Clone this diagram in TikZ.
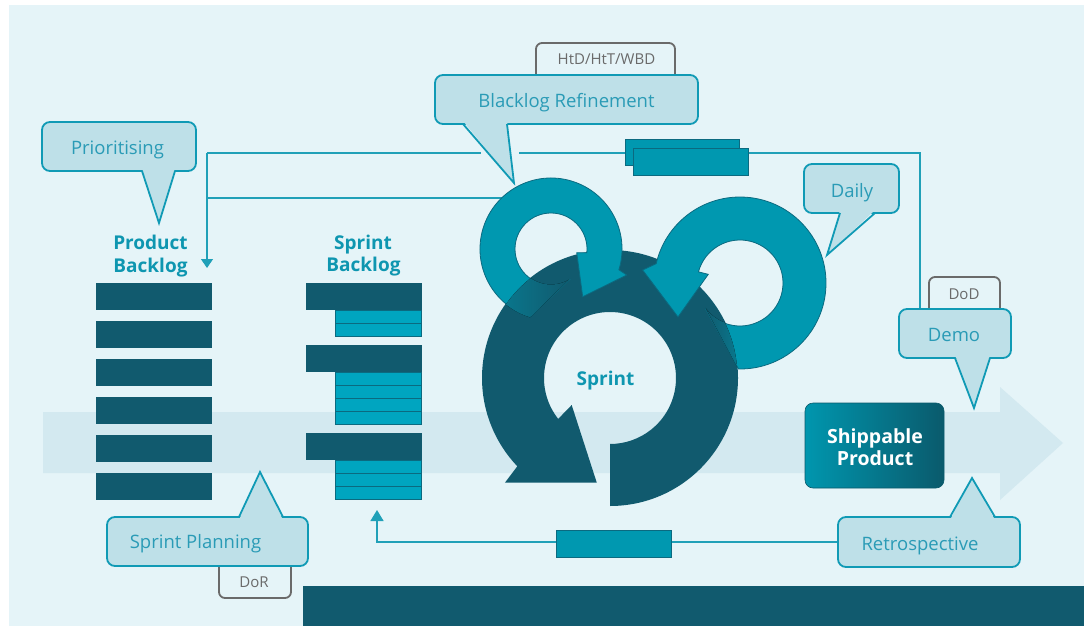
\documentclass[tikz,border=0pt]{standalone}
\usepackage{fontspec}
\setmainfont{Open Sans}
\usetikzlibrary{arrows.meta}
\definecolor{bgl}{HTML}{E5F4F8}
\definecolor{bandc}{HTML}{D3E9F0}
\definecolor{darkc}{HTML}{115A6E}
\definecolor{tealc}{HTML}{0098B0}
\definecolor{tealline}{HTML}{0B6A80}
\definecolor{subbarc}{HTML}{00A5C0}
\definecolor{cfill}{HTML}{BEE0E8}
\definecolor{cline}{HTML}{109AB5}
\definecolor{ctextc}{HTML}{2A9BB6}
\definecolor{headc}{HTML}{0E96B0}
\definecolor{tabg}{HTML}{6A6A6A}
\definecolor{connc}{HTML}{20A0B8}
\definecolor{shipl}{HTML}{0096AE}
\definecolor{shipr}{HTML}{0A5A6C}
\begin{document}
\begin{tikzpicture}[x=1pt,y=-1pt,
  callout/.style={fill=cfill, draw=cline, line width=1.8pt, rounded corners=8pt, inner sep=0pt},
  ptrfill/.style={fill=cfill},
  ptrline/.style={draw=cline, line width=1.8pt},
  ctext/.style={text=ctextc, font=\fontsize{18.5}{21}\selectfont, inner sep=0pt, anchor=base},
  tabline/.style={draw=tabg, line width=1.8pt, rounded corners=6pt},
  tabtext/.style={text=tabg, font=\fontsize{15}{17}\selectfont, inner sep=0pt, anchor=base},
  headtext/.style={text=headc, font=\fontsize{19}{22}\selectfont\bfseries, inner sep=0pt, anchor=base},
  shiptext/.style={text=white, font=\fontsize{19.5}{22}\selectfont\bfseries, inner sep=0pt, anchor=base},
  connline/.style={draw=connc, line width=1.3pt},
  pbar/.style={fill=darkc},
  subbar/.style={fill=subbarc, draw=tealline, line width=1pt},
  tbar/.style={fill=tealc, draw=tealline, line width=1pt},
  ring/.style={fill=tealc, draw=tealline, line width=0.8pt}
]
\useasboundingbox (0,0) rectangle (1084,626);
\fill[white] (0,0) rectangle (1084,626);
\fill[bgl] (9,5) rectangle (1084,626);
% big flow arrow
\fill[bandc] (43,412) -- (1000,412) -- (1000,387) -- (1063,443) -- (1000,500) -- (1000,473) -- (43,473) -- cycle;
% bottom band
\fill[darkc] (303,586) rectangle (1084,626);

% connectors
\coordinate (jtop) at (207,153);
\coordinate (jmid) at (207,198);
\coordinate (pbin) at (207,268);
\coordinate (gapl) at (481,153);
\coordinate (gapr) at (519,153);
\coordinate (rcorner) at (920,153);
\coordinate (demoin) at (920,309);
\coordinate (loopin) at (512,198);
\coordinate (retroout) at (838,542);
\coordinate (sbcorner) at (377,542);
\coordinate (sbin) at (377,510);
\draw[connline] (jtop) -- (gapl);
\draw[connline] (gapr) -- (rcorner) -- (demoin);
\draw[connline] (jmid) -- (loopin);
\draw[connline, -{Triangle[width=12pt,length=9pt]}] (jtop) -- (pbin);
\draw[connline, -{Triangle[width=13pt,length=11pt]}] (retroout) -- (sbcorner) -- (sbin);

% product backlog
\foreach \y in {283,321,359,397,435,473} \fill[pbar] (96,\y) rectangle (212,\y+27);
\node[headtext] (pb1) at (150.5,249) {Product};
\node[headtext] (pb2) at (150.5,272) {Backlog};

% sprint backlog
\node[headtext] (sb1) at (363,249) {Sprint};
\node[headtext] (sb2) at (363.5,271) {Backlog};
\foreach \y in {310,323} \draw[subbar] (335,\y) rectangle (421.5,\y+13);
\foreach \y in {372,385,398,411} \draw[subbar] (335,\y) rectangle (421.5,\y+13);
\foreach \y in {460,473,486} \draw[subbar] (335,\y) rectangle (421.5,\y+13);
\foreach \y in {283,345,433} \fill[pbar] (306,\y) rectangle (421.5,\y+27);

% stacked bars top right and bottom bar
\draw[tbar] (625,139) rectangle (739,165);
\draw[tbar] (633,148) rectangle (748,175);
\draw[tbar] (556,530) rectangle (671,557);

% big sprint ring
\begin{scope}[shift={(610,378)}]
\fill[darkc] (90:128) arc[start angle=90, end angle=-223.6, radius=128]
  -- (-224.9:148.3) -- (-262.8:105.5) -- (-215.2:46.9) -- (-218.3:66)
  arc[start angle=-218.3, end angle=90, radius=66] -- cycle;
\end{scope}
\node[headtext] (sprint) at (605.5,385) {Sprint};

% left loop (refinement)
\begin{scope}[shift={(551,249)}]
\filldraw[ring] (107:71) arc[start angle=107, end angle=377, radius=71]
  -- (379:80) -- (416.4:57.3) -- (368.2:26) -- (366:36)
  arc[start angle=366, end angle=60, radius=36] -- cycle;
\end{scope}
\begin{scope}
\clip (610,378) circle[radius=127.5];
\begin{scope}[shift={(551,249)}]
\fill[left color=tealc!52!darkc, right color=darkc] (107:71.5) arc[start angle=107, end angle=142, radius=71.5]
  -- (142:35.5) arc[start angle=142, end angle=60, radius=35.5] -- cycle;
\end{scope}
\end{scope}

% right loop (daily)
\begin{scope}[shift={(740,283)}]
\filldraw[ring] (91:86) arc[start angle=91, end angle=-167, radius=86]
  -- (-172.4:98.2) -- (-208.7:70.7) -- (-164.7:32.9) -- (-165:43)
  arc[start angle=-165, end angle=144, radius=43] -- cycle;
\end{scope}
\begin{scope}
\clip (610,378) circle[radius=127.5];
\begin{scope}[shift={(740,283)}]
\fill[left color=darkc, right color=tealc!75!darkc] (91:86.5) arc[start angle=91, end angle=80, radius=86.5]
  -- (80:42.5) arc[start angle=80, end angle=144, radius=42.5] -- cycle;
\end{scope}
\end{scope}

% shippable product
\node[draw=shipr, line width=0.6pt, rounded corners=8pt, left color=shipl, right color=shipr,
  minimum width=139pt, minimum height=85pt, inner sep=0pt] (ship) at (874.5,445.5) {};
\node[shiptext] (ship1) at (875,443) {Shippable};
\node[shiptext] (ship2) at (875,465) {Product};

% tabs
\draw[tabline] (536,80) -- (536,43) -- (675,43) -- (675,80);
\node[tabtext] (htd) at (606.5,65) {HtD/HtT/WBD};
\draw[tabline] (929,314) -- (929,277) -- (1000,277) -- (1000,314);
\node[tabtext] (dod) at (964,299) {DoD};
\draw[tabline] (219,560) -- (219,598) -- (291,598) -- (291,560);
\node[tabtext] (dor) at (254,587) {DoR};

% callouts
% Prioritising
\node[callout, minimum width=154pt, minimum height=49pt] (prio) at (119,146.5) {};
\fill[ptrfill] (142,168) -- (159,223) -- (175,168) -- cycle;
\draw[ptrline] (142,171) -- (159,223) -- (175,171);
\node[ctext] (priot) at (117.5,154) {Prioritising};
% Blacklog Refinement
\node[callout, minimum width=263pt, minimum height=49pt] (refine) at (566.5,99.5) {};
\fill[ptrfill] (463,121) -- (514,183) -- (507,121) -- cycle;
\draw[ptrline] (463,124) -- (514,183) -- (507,124);
\node[ctext] (refinet) at (566.5,107) {Blacklog Refinement};
% Daily
\node[callout, minimum width=95pt, minimum height=49pt] (daily) at (851.5,188.5) {};
\fill[ptrfill] (840,210) -- (827,255) -- (875,210) -- cycle;
\draw[ptrline] (840,213) -- (827,255) -- (875,213);
\node[ctext] (dailyt) at (852,197) {Daily};
% Demo
\node[callout, minimum width=112pt, minimum height=49pt] (demo) at (955,333.5) {};
\fill[ptrfill] (955,355) -- (974,408) -- (990,355) -- cycle;
\draw[ptrline] (955,358) -- (974,408) -- (990,358);
\node[ctext] (demot) at (954,341) {Demo};
% Retrospective
\node[callout, minimum width=182pt, minimum height=50pt] (retro) at (929,542) {};
\fill[ptrfill] (950,520) -- (972,478) -- (995,520) -- cycle;
\draw[ptrline] (950,517) -- (972,478) -- (995,517);
\node[ctext] (retrot) at (920,550) {Retrospective};
% Sprint Planning
\node[callout, minimum width=201pt, minimum height=49pt] (plan) at (207.5,541.5) {};
\fill[ptrfill] (239,520) -- (260,472) -- (283,520) -- cycle;
\draw[ptrline] (239,517) -- (260,472) -- (283,517);
\node[ctext] (plant) at (195.5,548) {Sprint Planning};
\end{tikzpicture}
\end{document}
